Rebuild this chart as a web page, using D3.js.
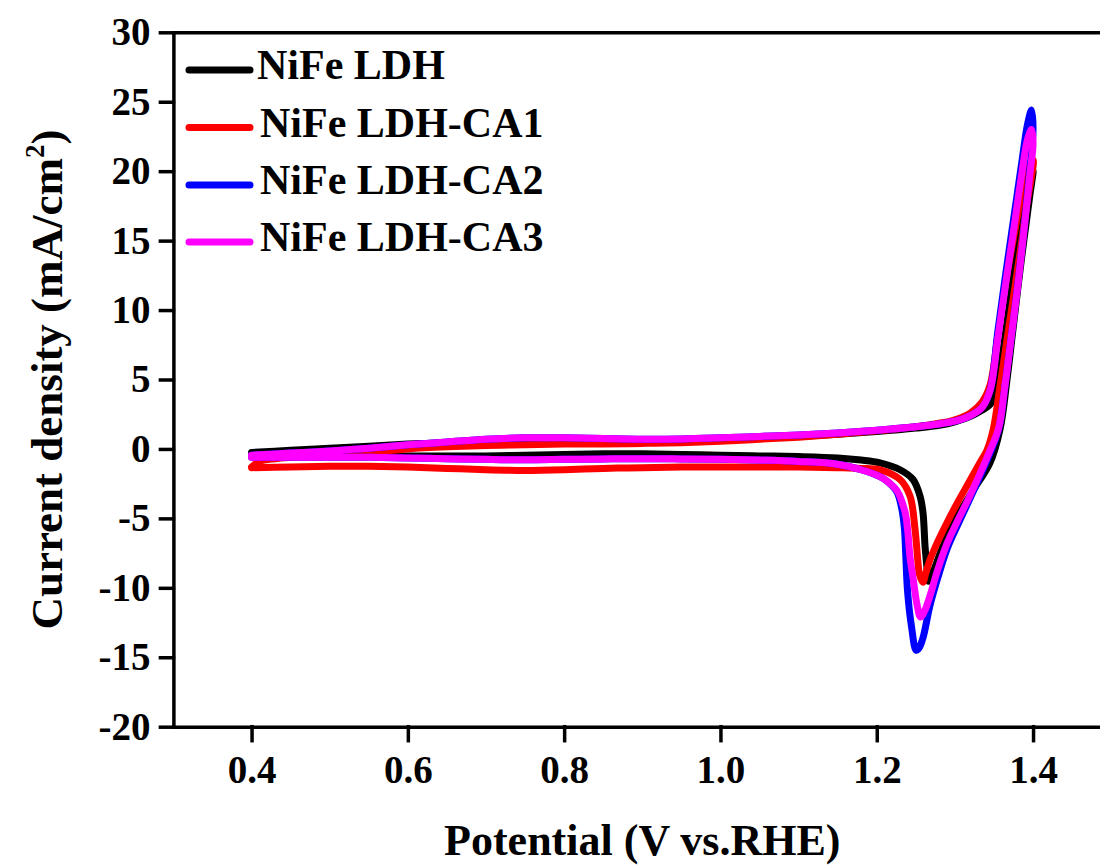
<!DOCTYPE html>
<html>
<head>
<meta charset="utf-8">
<script src="https://cdn.jsdelivr.net/npm/d3@7"></script>
<style>
  body { margin: 0; background: #fff; }
  svg text { font-family: "Liberation Serif", "Times New Roman", serif; font-weight: bold; fill: #000; }
</style>
</head>
<body>
<div id="cv-chart"></div>
<script>
// CV loops: forward scan 0.4 -> 1.4 V, then reverse 1.4 -> 0.4 V
var seriesNames = ["NiFe LDH", "NiFe LDH-CA1", "NiFe LDH-CA2", "NiFe LDH-CA3"];
var seriesColors = ["#000000", "#ff0000", "#0000ff", "#ff00ff"];

var ldhV = [0.40, 0.45, 0.50, 0.55, 0.60, 0.65, 0.70, 0.75, 0.80, 0.85, 0.90, 0.95, 1.00, 1.05, 1.10, 1.15, 1.20, 1.25, 1.28, 1.30, 1.32, 1.335, 1.345, 1.352, 1.36, 1.37, 1.38, 1.39, 1.40,
    1.396, 1.385, 1.3743, 1.3667, 1.3577, 1.3449, 1.3231, 1.3027, 1.2848, 1.272, 1.2675, 1.2656, 1.2643, 1.2618, 1.2592, 1.2554, 1.2464, 1.2298, 1.2042,
    1.18, 1.15, 1.10, 1.05, 1.00, 0.95, 0.90, 0.85, 0.80, 0.75, 0.70, 0.65, 0.60, 0.55, 0.50, 0.45, 0.40];
var ldhJ = [-0.25, -0.1, 0.05, 0.2, 0.35, 0.45, 0.55, 0.6, 0.6, 0.55, 0.55, 0.6, 0.7, 0.8, 0.9, 1.05, 1.25, 1.5, 1.7, 1.95, 2.35, 2.8, 3.2, 4.0, 6.5, 10.5, 14.5, 18.0, 20.0,
    18.3, 13.6, 8.6, 5.0, 1.4, -1.0, -3.0, -4.9, -7.0, -8.9, -9.5, -9.5, -8.6, -7.0, -4.6, -3.4, -2.2, -1.5, -1.0,
    -0.8, -0.65, -0.55, -0.5, -0.45, -0.4, -0.35, -0.35, -0.4, -0.45, -0.5, -0.5, -0.5, -0.5, -0.45, -0.45, -0.4];

var ca1V = [0.40, 0.41, 0.43, 0.45, 0.50, 0.55, 0.60, 0.65, 0.70, 0.75, 0.80, 0.85, 0.90, 0.95, 1.00, 1.05, 1.10, 1.15, 1.20, 1.25, 1.28, 1.30, 1.32, 1.335, 1.345, 1.355, 1.365, 1.375, 1.385, 1.393, 1.40,
    1.392, 1.383, 1.374, 1.366, 1.358, 1.349, 1.341, 1.332, 1.318, 1.303, 1.29, 1.277, 1.268, 1.2625, 1.259, 1.2545, 1.2528, 1.249, 1.2426, 1.2298, 1.2042,
    1.18, 1.15, 1.10, 1.05, 1.00, 0.95, 0.90, 0.85, 0.80, 0.75, 0.70, 0.65, 0.60, 0.55, 0.50, 0.45, 0.40];
var ca1J = [-1.3, -0.9, -0.7, -0.6, -0.45, -0.25, 0.0, 0.15, 0.25, 0.3, 0.35, 0.35, 0.4, 0.45, 0.55, 0.7, 0.85, 1.05, 1.3, 1.6, 1.85, 2.1, 2.6, 3.4, 4.6, 8.2, 12.0, 15.2, 18.2, 20.2, 20.8,
    17.6, 14.0, 10.6, 7.6, 4.6, 1.4, -0.1, -1.0, -2.4, -3.9, -5.3, -6.8, -8.0, -9.0, -9.6, -9.0, -8.2, -5.8, -3.4, -2.2, -1.5,
    -1.4, -1.35, -1.3, -1.3, -1.3, -1.3, -1.35, -1.4, -1.5, -1.55, -1.5, -1.4, -1.3, -1.25, -1.25, -1.3, -1.35];

var ca2V = [0.40, 0.45, 0.50, 0.55, 0.60, 0.65, 0.70, 0.75, 0.80, 0.85, 0.90, 0.95, 1.00, 1.05, 1.10, 1.15, 1.20, 1.25, 1.28, 1.30, 1.32, 1.335, 1.345, 1.355, 1.365, 1.375, 1.385, 1.393, 1.398,
    1.40, 1.396, 1.388, 1.38, 1.372, 1.364, 1.356, 1.345, 1.332, 1.319, 1.305, 1.29, 1.278, 1.268, 1.2592, 1.2545, 1.2505, 1.2445, 1.2395, 1.237, 1.2355, 1.232, 1.2259, 1.215, 1.2042,
    1.18, 1.15, 1.10, 1.05, 1.00, 0.95, 0.90, 0.85, 0.80, 0.75, 0.70, 0.65, 0.60, 0.55, 0.50, 0.45, 0.40];
var ca2J = [-0.45, -0.3, -0.15, 0.05, 0.3, 0.5, 0.7, 0.8, 0.8, 0.75, 0.7, 0.72, 0.8, 0.9, 1.0, 1.15, 1.35, 1.6, 1.8, 2.0, 2.4, 3.0, 4.2, 8.5, 12.6, 16.5, 20.4, 23.4, 24.4,
    23.0, 20.2, 15.6, 11.6, 8.0, 4.5, 1.4, -0.3, -2.0, -3.6, -5.3, -7.2, -9.3, -11.3, -13.6, -14.3, -14.5, -12.8, -10.3, -7.5, -5.8, -4.3, -3.1, -2.4, -2.0,
    -1.5, -1.1, -0.9, -0.8, -0.75, -0.72, -0.7, -0.72, -0.75, -0.78, -0.75, -0.7, -0.65, -0.6, -0.6, -0.6, -0.6];

var ca3V = [0.40, 0.45, 0.50, 0.55, 0.60, 0.65, 0.70, 0.75, 0.80, 0.85, 0.90, 0.95, 1.00, 1.05, 1.10, 1.15, 1.20, 1.25, 1.28, 1.30, 1.32, 1.335, 1.345, 1.355, 1.365, 1.375, 1.385, 1.393, 1.398,
    1.40, 1.396, 1.388, 1.38, 1.372, 1.364, 1.356, 1.345, 1.332, 1.319, 1.305, 1.29, 1.278, 1.268, 1.261, 1.256, 1.2515, 1.2465, 1.2426, 1.2395, 1.236, 1.2259, 1.215, 1.2042,
    1.18, 1.15, 1.10, 1.05, 1.00, 0.95, 0.90, 0.85, 0.80, 0.75, 0.70, 0.65, 0.60, 0.55, 0.50, 0.45, 0.40];
var ca3J = [-0.45, -0.3, -0.15, 0.05, 0.3, 0.5, 0.7, 0.8, 0.8, 0.75, 0.7, 0.72, 0.8, 0.9, 1.0, 1.15, 1.35, 1.6, 1.8, 2.0, 2.4, 3.0, 4.2, 8.0, 11.9, 15.7, 19.6, 22.3, 23.0,
    22.0, 19.8, 15.5, 11.5, 8.0, 4.5, 1.5, -0.1, -1.8, -3.4, -5.0, -6.8, -8.7, -10.6, -11.7, -12.1, -11.2, -9.3, -7.8, -5.8, -4.5, -3.0, -2.4, -2.0,
    -1.5, -1.1, -0.9, -0.8, -0.75, -0.72, -0.7, -0.72, -0.75, -0.78, -0.75, -0.7, -0.65, -0.6, -0.6, -0.6, -0.6];

var xMajorTicks = [0.4, 0.6, 0.8, 1.0, 1.2, 1.4];
var xMinorTicks = [0.3, 0.5, 0.7, 0.9, 1.1, 1.3, 1.5];
var yMajorTicks = [-20, -15, -10, -5, 0, 5, 10, 15, 20, 25, 30];
var yMinorTicks = [-17.5, -12.5, -7.5, -2.5, 2.5, 7.5, 12.5, 17.5, 22.5, 27.5];

function createCvChart() {
    var svg = d3.select("#cv-chart")
        .append("svg")
        .attr("width", 1100)
        .attr("height", 868);

    var left = 173.4, right = 1111.2, top = 32.3, bottom = 726.7;

    var xScale = d3.scaleLinear().domain([0.3, 1.5]).range([left, right]);
    var yScale = d3.scaleLinear().domain([-20, 30]).range([bottom, top]);

    var allSeries = [
        { v: ldhV, j: ldhJ },
        { v: ca1V, j: ca1J },
        { v: ca2V, j: ca2J },
        { v: ca3V, j: ca3J }
    ];

    var line = d3.line()
        .x(function (d) { return xScale(d[0]); })
        .y(function (d) { return yScale(d[1]); })
        .curve(d3.curveCatmullRom.alpha(0.5));

    // curves
    allSeries.forEach(function (s, i) {
        var pts = s.v.map(function (v, k) { return [v, s.j[k]]; });
        svg.append("path")
            .datum(pts)
            .attr("d", line)
            .attr("fill", "none")
            .attr("stroke", seriesColors[i])
            .attr("stroke-width", 7)
            .attr("stroke-linejoin", "round")
            .attr("stroke-linecap", "round");
    });

    // axes
    var fmtY = function (d) { return String(d); };
    var fmtX = d3.format(".1f");

    var gx = svg.append("g").attr("transform", "translate(0," + bottom + ")");
    gx.call(d3.axisBottom(xScale).tickValues(xMinorTicks).tickSize(8).tickSizeOuter(0).tickFormat(""));
    gx.call(d3.axisBottom(xScale).tickValues(xMajorTicks).tickSize(14).tickSizeOuter(0).tickPadding(15).tickFormat(fmtX));

    var gy = svg.append("g").attr("transform", "translate(" + left + ",0)");
    gy.call(d3.axisLeft(yScale).tickValues(yMinorTicks).tickSize(8).tickSizeOuter(0).tickFormat(""));
    gy.call(d3.axisLeft(yScale).tickValues(yMajorTicks).tickSize(13).tickSizeOuter(0).tickPadding(10).tickFormat(fmtY));

    svg.append("g").attr("transform", "translate(0," + top + ")")
        .call(d3.axisTop(xScale).tickValues([]).tickSizeOuter(0));
    svg.append("g").attr("transform", "translate(" + right + ",0)")
        .call(d3.axisRight(yScale).tickValues([]).tickSizeOuter(0));

    svg.selectAll(".domain, .tick line")
        .attr("stroke", "#000")
        .attr("stroke-width", 3.5)
        .attr("stroke-linecap", "square");
    svg.selectAll(".tick text")
        .style("font-family", "'Liberation Serif', 'Times New Roman', serif")
        .style("font-weight", "bold")
        .style("font-size", "39px")
        .attr("fill", "#000");

    // axis titles
    svg.append("text")
        .attr("x", (left + right) / 2)
        .attr("y", 855)
        .attr("text-anchor", "middle")
        .style("font-size", "44px")
        .text("Potential (V vs.RHE)");

    var yTitle = svg.append("text")
        .attr("transform", "translate(62," + ((top + bottom) / 2) + ") rotate(-90)")
        .attr("text-anchor", "middle")
        .style("font-size", "45px");
    yTitle.append("tspan").text("Current density (mA/cm");
    yTitle.append("tspan").attr("dy", -18).style("font-size", "27px").text("2");
    yTitle.append("tspan").attr("dy", 18).text(")");

    // legend
    var legendY = [70, 127.5, 185, 242];
    seriesNames.forEach(function (name, i) {
        svg.append("line")
            .attr("x1", 189).attr("x2", 250)
            .attr("y1", legendY[i]).attr("y2", legendY[i])
            .attr("stroke", seriesColors[i])
            .attr("stroke-width", 7)
            .attr("stroke-linecap", "round");
        svg.append("text")
            .attr("x", i === 0 ? 257 : 260)
            .attr("y", legendY[i] + 9)
            .style("font-size", "42px")
            .text(name);
    });
}

createCvChart();
</script>
</body>
</html>
